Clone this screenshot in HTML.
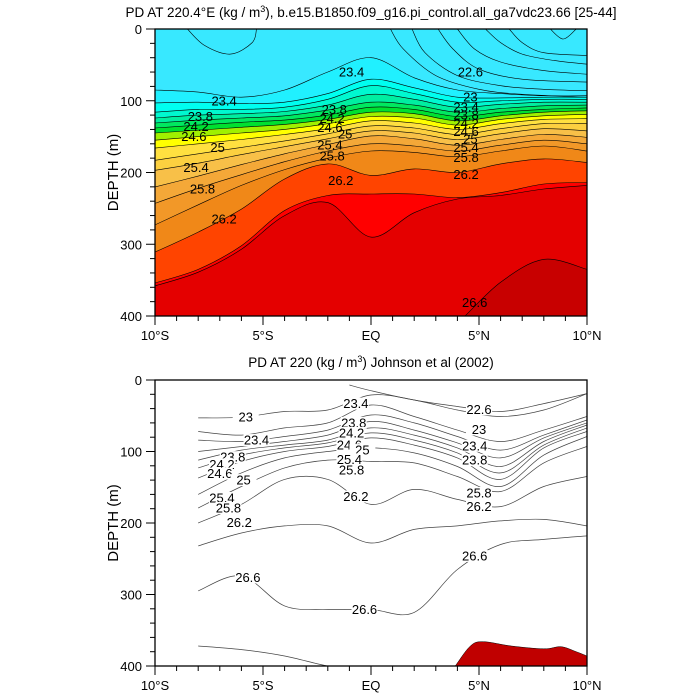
<!DOCTYPE html>
<html><head><meta charset="utf-8"><style>
body{margin:0;background:#fff;}
svg{display:block;font-family:"Liberation Sans",sans-serif;}
</style></head><body>
<svg id="chart" width="700" height="700" viewBox="0 0 700 700" xmlns="http://www.w3.org/2000/svg">
<text x="371" y="17" text-anchor="middle" font-size="13.5">PD AT 220.4°E (kg / m<tspan baseline-shift="super" font-size="9">3</tspan>), b.e15.B1850.f09_g16.pi_control.all_ga7vdc23.66 [25-44]</text>
<text x="371" y="367" text-anchor="middle" font-size="13.5">PD AT 220 (kg / m<tspan baseline-shift="super" font-size="9">3</tspan>) Johnson et al (2002)</text>
<g id="top"></g>
<g id="bot"></g>
</svg>
<script>
// ---- data: top panel (model), depth (m) of contour lines at these latitudes
const topLats = [-10,-8,-6,-4,-2,0,2,4,6,8,10];
const topLines = [
  [85,88,95,85,60,40,68,85,90,93,93],
  [103,102,104,102,90,70,82,95,96,95,95],
  [116,112,112,109,98,79,90,102,100,98,98],
  [124,120,118,115,106,91,98,109,105,102,102],
  [131,127,124,121,113,102,106,116,111,107,106],
  [138,134,130,127,120,109,112,122,116,112,110],
  [145,141,137,133,126,116,118,128,121,116,114],
  [155,150,145,140,132,122,124,134,126,121,119],
  [166,160,154,147,139,128,131,140,132,126,125],
  [183,174,165,156,146,135,138,147,139,132,132],
  [197,187,175,164,153,142,145,154,146,139,142],
  [220,205,189,174,161,149,153,162,154,147,151],
  [243,222,203,185,170,160,163,170,162,155,160],
  [273,245,218,196,180,170,172,178,170,163,170],
  [311,283,251,209,188,204,195,200,188,181,186],
  [354,335,302,253,232,230,230,235,228,216,214],
  [358,339,307,260,242,290,256,237,232,223,218],
  [460,460,460,460,460,460,460,410,353,321,335]
];
const topColors = ["#20f0ff","#00fff0","#00f8d0","#00eea0","#00e860","#00e030","#a0f000","#ffff00","#ffe040","#fcd040","#f8c048","#f4a838","#f29828","#f08818","#ff4400","#ff0000","#e40000","#c80000"];
const topSurfaceLines = [
  {lats:[0.9,1.5,3,5,7,10], d:[0,28,65,84,91,95]},
  {lats:[1.9,2.5,4,6,8,10], d:[0,33,65,79,84,86]},
  {lats:[3.1,3.8,5,7,10], d:[0,28,56,70,74]},
  {lats:[4,4.8,6,8,10], d:[0,28,46,58,63]},
  {lats:[5.3,6,7,8.5,10], d:[0,19,35,44,49]},
  {lats:[6.4,7,8,10], d:[0,19,33,37]},
  {lats:[-8.5,-7.7,-6.5,-5.5,-5.3], d:[0,23,35,19,0]},
  {lats:[8.3,8.9,9.5], d:[0,14,0]}
];
const topLabels = [
  [-0.9,60,"23.4"],[-6.8,100,"23.4"],[4.6,60,"22.6"],[-7.9,122,"23.8"],[-8.1,136,"24.2"],[-8.2,150,"24.6"],
  [-7.1,165,"25"],[-8.1,193,"25.4"],[-7.8,223,"25.8"],[-6.8,265,"26.2"],
  [-1.7,112,"23.8"],[-1.8,125,"24.2"],[-1.9,137,"24.6"],[-1.2,146,"25"],[-1.9,162,"25.4"],[-1.8,177,"25.8"],[-1.4,211,"26.2"],
  [4.6,95,"23"],[4.4,109,"23.4"],[4.4,120,"23.8"],[4.4,132,"24.2"],[4.4,143,"24.6"],[4.6,153,"25"],[4.4,165,"25.4"],[4.4,179,"25.8"],[4.4,203,"26.2"],[4.8,381,"26.6"]
];
// ---- data: bottom panel (Johnson et al)
const botLats = [-8,-6,-4,-2,0,2,4,6,8,10];
const botLines = [
  [53,52,44,42,21,28,42,51,42,19],
  [72,77,67,60,35,51,70,86,70,51],
  [84,86,79,70,49,60,79,98,77,56],
  [100,93,86,77,58,70,88,109,81,60],
  [112,98,91,84,67,77,95,121,86,63],
  [123,105,95,88,74,84,102,130,91,67],
  [137,114,100,93,81,91,109,139,95,72],
  [160,130,109,100,95,102,121,149,105,79],
  [179,149,123,112,114,116,135,156,116,93],
  [200,174,139,139,174,153,167,177,149,135],
  [232,214,204,204,228,209,204,197,195,204],
  [295,274,316,321,321,325,265,230,223,218]
];
const botExtraLats = [-1,0,2,4,6,8,10];
const botExtra = [7,15,28,37,44,33,19];
const botDeepLats = [-8,-6,-4,-2,-1];
const botDeep = [372,377,386,400,400];
const redLats = [3.9,4.6,5.2,6.5,8,8.8,9.5,10];
const redDepth = [400,372,366,372,376,373,380,386];
const botLabels = [
  [-5.8,52,"23"],[-5.3,84,"23.4"],[-6.4,108,"23.8"],[-6.9,118,"24.2"],[-7.0,131,"24.6"],[-5.9,140,"25"],
  [-6.9,165,"25.4"],[-6.6,179,"25.8"],[-6.1,199,"26.2"],[-0.7,33,"23.4"],[-0.8,60,"23.8"],[-0.9,74,"24.2"],
  [-1.0,91,"24.6"],[-0.4,98,"25"],[-1.0,111,"25.4"],[-0.9,126,"25.8"],[-0.7,163,"26.2"],
  [5.0,41,"22.6"],[5.0,69,"23"],[4.8,92,"23.4"],[4.8,112,"23.8"],[5.0,158,"25.8"],[5.0,177,"26.2"],
  [-5.7,276,"26.6"],[-0.3,321,"26.6"],[4.8,246,"26.6"]
];
const xTicks = [-10,-5,0,5,10];
const xTickLabels = ["10°S","5°S","EQ","5°N","10°N"];
const yTicks = [0,100,200,300,400];

const NS="http://www.w3.org/2000/svg";
const X0=155,X1=587;
function mk(tag,attrs,parent){const e=document.createElementNS(NS,tag);for(const k in attrs)e.setAttribute(k,attrs[k]);parent.appendChild(e);return e;}
function xs(lat){return X0+(lat+10)/20*(X1-X0);}
function smooth(pts){
  let d="M"+pts[0][0].toFixed(1)+","+pts[0][1].toFixed(1);
  for(let i=0;i<pts.length-1;i++){
    const p0=pts[i-1]||pts[i],p1=pts[i],p2=pts[i+1],p3=pts[i+2]||p2;
    const c1=[p1[0]+(p2[0]-p0[0])/6,p1[1]+(p2[1]-p0[1])/6];
    const c2=[p2[0]-(p3[0]-p1[0])/6,p2[1]-(p3[1]-p1[1])/6];
    d+="C"+c1[0].toFixed(1)+","+c1[1].toFixed(1)+" "+c2[0].toFixed(1)+","+c2[1].toFixed(1)+" "+p2[0].toFixed(1)+","+p2[1].toFixed(1);
  }
  return d;
}
function panel(g,Y0,Y1,id){
  const ys=d=>Y0+d/400*(Y1-Y0);
  const clip=mk("clipPath",{id:"clip"+id},g);
  mk("rect",{x:X0,y:Y0,width:X1-X0,height:Y1-Y0},clip);
  const inner=mk("g",{"clip-path":"url(#clip"+id+")"},g);
  return {ys,inner};
}
function axes(g,Y0,Y1,ys){
  mk("rect",{x:X0,y:Y0,width:X1-X0,height:Y1-Y0,fill:"none",stroke:"#000","stroke-width":1.3},g);
  for(let lat=-10;lat<=10;lat++){
    const major=lat%5===0;const L=major?9:5;
    const t=mk("line",{x1:xs(lat),x2:xs(lat),y1:Y1,y2:Y1+L,stroke:"#000","stroke-width":1},g);
    
    
  }
  for(let d=0;d<=400;d+=20){
    const major=d%100===0;const L=major?9:5;
    const t=mk("line",{x1:X0-L,x2:X0,y1:ys(d),y2:ys(d),stroke:"#000","stroke-width":1},g);
    
    
  }
  xTicks.forEach((lat,i)=>{
    const t=mk("text",{x:xs(lat),y:Y1+24,"text-anchor":"middle","font-size":13},g);
    t.textContent=xTickLabels[i];
    
    
  });
  yTicks.forEach(d=>{
    const t=mk("text",{x:X0-13,y:ys(d)+5,"text-anchor":"end","font-size":13},g);
    t.textContent=d;
    
    
  });
  const yt=mk("text",{x:0,y:0,"text-anchor":"middle","font-size":15,transform:"translate(118,"+((Y0+Y1)/2)+") rotate(-90)"},g);
  yt.textContent="DEPTH (m)";
  
  
}
function label(parent,x,y,txt){
  const t=mk("text",{x:x,y:y+4.5,"text-anchor":"middle","font-size":13},parent);
  t.textContent=txt;
  
  
}
// top panel
(function(){
  const g=document.getElementById("top");const Y0=29,Y1=316;
  const {ys,inner}=panel(g,Y0,Y1,"t");
  mk("rect",{x:X0,y:Y0,width:X1-X0,height:Y1-Y0,fill:"#38e8ff"},inner);
  topLines.forEach((arr,i)=>{
    const pts=topLats.map((lat,j)=>[xs(lat),ys(arr[j])]);
    const d=smooth(pts)+"L"+X1+","+(Y1+10)+"L"+X0+","+(Y1+10)+"Z";
    const f=mk("path",{d:d,fill:topColors[i]},inner);
    
    
  });
  topLines.forEach(arr=>{
    const pts=topLats.map((lat,j)=>[xs(lat),ys(arr[j])]);
    const l=mk("path",{d:smooth(pts),fill:"none",stroke:"#000","stroke-width":0.6},inner);
    
    
  });
  topSurfaceLines.forEach(s=>{
    const pts=s.lats.map((lat,j)=>[xs(lat),ys(s.d[j])]);
    const l=mk("path",{d:smooth(pts),fill:"none",stroke:"#000","stroke-width":0.6},inner);
    
    
  });
  topLabels.forEach(b=>label(inner,xs(b[0]),ys(b[1]),b[2]));
  axes(g,Y0,Y1,ys);
})();
// bottom panel
(function(){
  const g=document.getElementById("bot");const Y0=380,Y1=666;
  const {ys,inner}=panel(g,Y0,Y1,"b");
  const rp=redLats.map((lat,j)=>[xs(lat),ys(redDepth[j])]);
  const red=mk("path",{d:smooth(rp)+"L"+X1+","+Y1+"L"+xs(3.9)+","+Y1+"Z",fill:"#c00000",stroke:"#000","stroke-width":0.5},inner);
  
  
  const all=botLines.map(arr=>botLats.map((lat,j)=>[xs(lat),ys(arr[j])]));
  all.push(botExtraLats.map((lat,j)=>[xs(lat),ys(botExtra[j])]));
  all.push(botDeepLats.map((lat,j)=>[xs(lat),ys(botDeep[j])]));
  all.forEach(pts=>{
    const l=mk("path",{d:smooth(pts),fill:"none",stroke:"#444","stroke-width":0.7},inner);
    
    
  });
  botLabels.forEach(b=>{
    mk("rect",{x:xs(b[0])-13,y:ys(b[1])-6,width:26,height:12,fill:"#fff"},inner);
    label(inner,xs(b[0]),ys(b[1]),b[2]);
  });
  axes(g,Y0,Y1,ys);
})();
</script>
</body></html>
